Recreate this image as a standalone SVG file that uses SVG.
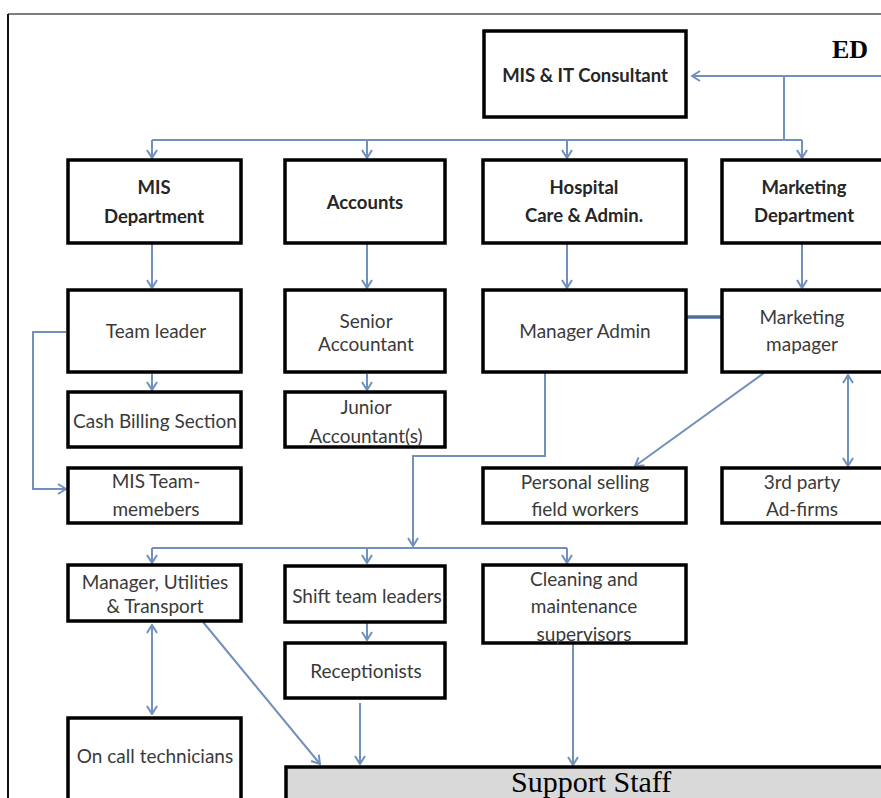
<svg xmlns="http://www.w3.org/2000/svg" width="881" height="798" viewBox="0 0 881 798">
<style>
.box{fill:#fff;stroke:#000;stroke-width:3.5}
.t{font-family:Lato,"Open Sans",sans-serif;font-size:19px;fill:#3a3a3a;text-anchor:middle}
.b{font-family:Lato,"Open Sans",sans-serif;font-size:18.5px;font-weight:bold;fill:#262626;text-anchor:middle}
.c{fill:none;stroke:#7090bd;stroke-width:2}
.ce{marker-end:url(#ah)}
.cb{marker-start:url(#ah);marker-end:url(#ah)}
</style>
<defs>
<marker id="ah" viewBox="0 0 10 12" refX="9" refY="6" markerWidth="10" markerHeight="12" markerUnits="userSpaceOnUse" orient="auto-start-reverse">
<path d="M1,1 L9,6 L1,11" fill="none" stroke="#7090bd" stroke-width="2"/>
</marker>
</defs>
<rect x="0" y="0" width="881" height="798" fill="#fff"/>
<g id="frame">
<line x1="8" y1="14" x2="881" y2="14" stroke="#555" stroke-width="1.5"/>
<line x1="8" y1="14" x2="8" y2="798" stroke="#111" stroke-width="2"/>
</g>
<g id="connectors">
<path class="c ce" d="M881,76 H692"/>
<path class="c" d="M784,76 V140"/>
<path class="c" d="M152,140 H802"/>
<path class="c ce" d="M152,140 V158"/>
<path class="c ce" d="M367,140 V158"/>
<path class="c ce" d="M567,140 V158"/>
<path class="c ce" d="M802,140 V158"/>
<path class="c ce" d="M152,244 V288"/>
<path class="c ce" d="M367,244 V288"/>
<path class="c ce" d="M567,244 V288"/>
<path class="c ce" d="M802,244 V288"/>
<path class="c ce" d="M152,374 V390"/>
<path class="c ce" d="M367,374 V390"/>
<path class="c ce" d="M66,332 H33 V489 H66"/>
<path d="M687,317 H721" fill="none" stroke="#4f6f9f" stroke-width="3.5"/>
<path class="c ce" d="M793,352 L635,466"/>
<path class="c cb" d="M848,375 V466"/>
<path class="c ce" d="M545,372 V456 H413 V546"/>
<path class="c" d="M152,548 H567"/>
<path class="c ce" d="M152,548 V563"/>
<path class="c ce" d="M367,548 V563"/>
<path class="c ce" d="M567,548 V563"/>
<path class="c ce" d="M367,623 V640"/>
<path class="c cb" d="M152,625 V714"/>
<path class="c ce" d="M203,622 L320,764"/>
<path class="c ce" d="M360,703 V764"/>
<path class="c ce" d="M573,644 V765"/>
</g>
<g id="ed"><text x="832" y="58" font-family="'Liberation Serif',serif" font-size="26" font-weight="bold" fill="#000">ED</text></g>
<g id="mis-it"><rect class="box" x="484" y="31" width="202" height="86"/><text class="b" x="585" y="82">MIS &amp; IT Consultant</text></g>
<g id="mis-dept"><rect class="box" x="68" y="160" width="173" height="83"/><text class="b" x="154" y="194">MIS</text><text class="b" x="154" y="223">Department</text></g>
<g id="accounts"><rect class="box" x="285" y="160" width="160" height="83"/><text class="b" x="365" y="209">Accounts</text></g>
<g id="hospital"><rect class="box" x="483" y="160" width="203" height="83"/><text class="b" x="584" y="194">Hospital</text><text class="b" x="584" y="222">Care &amp; Admin.</text></g>
<g id="marketing-dept"><rect class="box" x="722" y="160" width="170" height="83"/><text class="b" x="804" y="194">Marketing</text><text class="b" x="804" y="222">Department</text></g>
<g id="team-leader"><rect class="box" x="68" y="290" width="173" height="82"/><text class="t" x="156" y="338">Team leader</text></g>
<g id="senior-accountant"><rect class="box" x="285" y="290" width="160" height="82"/><text class="t" x="366" y="328">Senior</text><text class="t" x="366" y="351">Accountant</text></g>
<g id="manager-admin"><rect class="box" x="483" y="290" width="203" height="82"/><text class="t" x="585" y="338">Manager Admin</text></g>
<g id="marketing-manager"><rect class="box" x="722" y="290" width="170" height="82"/><text class="t" x="802" y="324">Marketing</text><text class="t" x="802" y="351">mapager</text></g>
<g id="cash-billing"><rect class="box" x="68" y="392" width="173" height="55"/><text class="t" x="155" y="428">Cash Billing Section</text></g>
<g id="junior-accountant"><rect class="box" x="285" y="392" width="160" height="55"/><text class="t" x="366" y="414">Junior</text><text class="t" x="366" y="443">Accountant(s)</text></g>
<g id="mis-team"><rect class="box" x="68" y="468" width="173" height="55"/><text class="t" x="156" y="488">MIS Team-</text><text class="t" x="156" y="516">memebers</text></g>
<g id="personal-selling"><rect class="box" x="483" y="468" width="203" height="55"/><text class="t" x="585" y="489">Personal selling</text><text class="t" x="585" y="516">field workers</text></g>
<g id="third-party"><rect class="box" x="722" y="468" width="170" height="55"/><text class="t" x="802" y="489">3rd party</text><text class="t" x="802" y="516">Ad-firms</text></g>
<g id="manager-utilities"><rect class="box" x="68" y="565" width="173" height="56"/><text class="t" x="155" y="589">Manager, Utilities</text><text class="t" x="155" y="613">&amp; Transport</text></g>
<g id="shift-team"><rect class="box" x="285" y="566" width="160" height="56"/><text class="t" x="367" y="603">Shift team leaders</text></g>
<g id="cleaning"><rect class="box" x="483" y="565" width="203" height="78"/><text class="t" x="584" y="586">Cleaning and</text><text class="t" x="584" y="613">maintenance</text><text class="t" x="584" y="641">supervisors</text></g>
<g id="receptionists"><rect class="box" x="285" y="643" width="160" height="55"/><text class="t" x="366" y="678">Receptionists</text></g>
<g id="on-call"><rect class="box" x="68" y="718" width="173" height="90"/><text class="t" x="155" y="763">On call technicians</text></g>
<g id="support-staff"><rect x="286" y="767" width="610" height="40" fill="#d9d9d9" stroke="#000" stroke-width="3.5"/><text x="511" y="792" font-family="'Liberation Serif',serif" font-size="30" fill="#000">Support Staff</text></g>
</svg>
